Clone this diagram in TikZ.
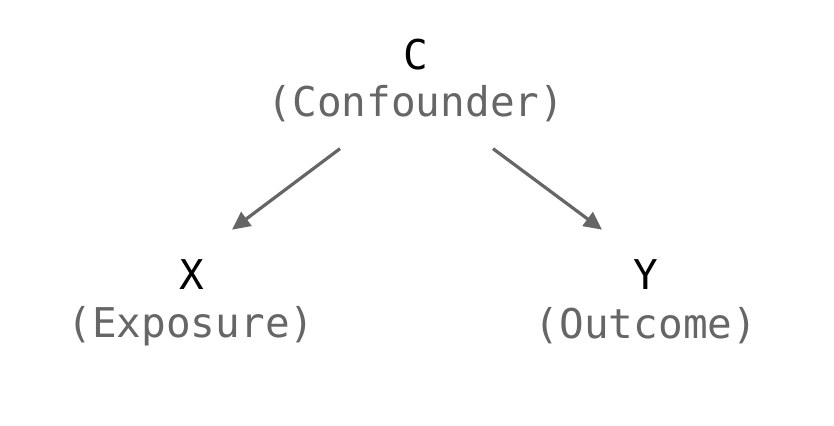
\documentclass[tikz,border=0pt]{standalone}
\usepackage{fontspec}
\setmonofont{DejaVu Sans Mono}
\usetikzlibrary{positioning,calc,arrows.meta}
\tikzset{
var/.style={font=\ttfamily\fontsize{20.5}{24}\selectfont,text=black,inner sep=0pt},
role/.style={font=\ttfamily\fontsize{20.5}{24}\selectfont,text=black!60,inner sep=0pt},
causal/.style={-{Triangle[length=9pt,width=8.5pt]},line width=1.6pt,black!60}
}
\begin{document}
\begin{tikzpicture}[x=0.5pt,y=-0.5pt]
\useasboundingbox[fill=white] (0,0) rectangle (834,426);
\node[var] (c) at (416,55) {C};
\node[role] (cr) at (416,104) {(Confounder)};
\node[var] (x) at (192,275) {X};
\node[role] (xr) at (191,326) {(Exposure)};
\node[var] (y) at (646,275) {Y};
\node[role] (yr) at (646,326) {(Outcome)};
\draw[causal] ($(cr.south)+(-76,26)$) -- ($(x.north)+(40,-30)$);
\draw[causal] ($(cr.south)+(77,26)$) -- ($(y.north)+(-44,-30)$);
\end{tikzpicture}
\end{document}
